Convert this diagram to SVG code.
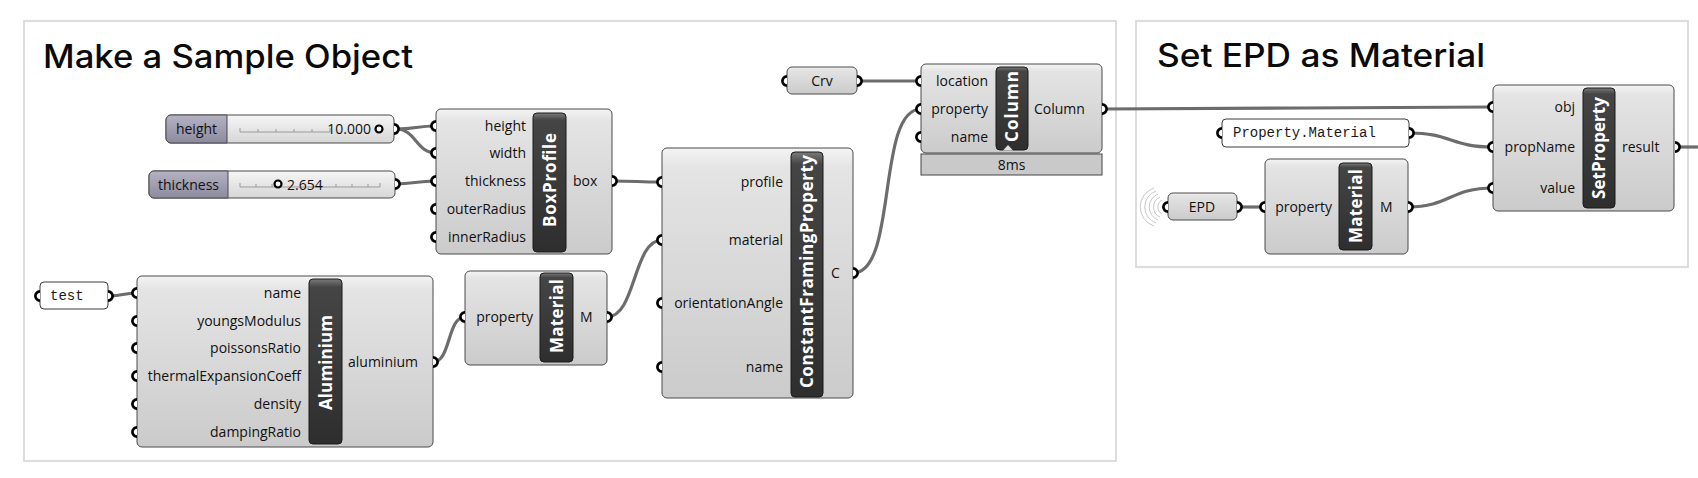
<svg xmlns="http://www.w3.org/2000/svg" xmlns:xlink="http://www.w3.org/1999/xlink" width="1698" height="478" viewBox="0 0 1698 478">
<style>
.frame{fill:#fff;stroke:#d2d2d2;stroke-width:1.5}
.title{font-family:Inter,"Liberation Sans",sans-serif;font-size:32px;font-weight:500;fill:#0a0a0a}
.node{fill:url(#gBody);stroke:#4a4a4a;stroke-width:1}
.bar{fill:url(#gBar);stroke:#1a1a1a;stroke-width:1}
.lbl{font-family:"Open Sans","Noto Sans",sans-serif;font-size:14px;fill:#111}
.r{text-anchor:end}
.m{text-anchor:middle}
.bt{font-family:"Open Sans","Noto Sans",sans-serif;font-weight:700;font-size:17px;fill:#fff;text-anchor:middle}
.wire{fill:none;stroke:#6c6c6c;stroke-width:3.2}
.sl{fill:url(#gSlider);stroke:#4a4a4a;stroke-width:1}
.sll{fill:url(#gSlLbl);stroke:#4a4a4a;stroke-width:1}
.rail{fill:none;stroke:#9a9a9a;stroke-width:1}
.grip{fill:#fff;stroke:#000;stroke-width:2.2}
.panel{fill:#fff;stroke:#3a3a3a;stroke-width:1}
.mono{font-family:"Liberation Mono","Courier New",monospace;font-size:14px;fill:#1a1a1a}
.wifi{fill:none;stroke:#c8c8c8;stroke-width:1}
</style>
<defs>
<linearGradient id="gBody" x1="0" y1="0" x2="0" y2="1">
<stop offset="0" stop-color="#f4f4f4"/><stop offset="0.08" stop-color="#e4e4e4"/><stop offset="1" stop-color="#cbcbcb"/>
</linearGradient>
<linearGradient id="gBar" x1="0" y1="0" x2="0" y2="1">
<stop offset="0" stop-color="#7a7a7a"/><stop offset="0.05" stop-color="#454545"/><stop offset="1" stop-color="#2e2e2e"/>
</linearGradient>
<linearGradient id="gSlider" x1="0" y1="0" x2="0" y2="1">
<stop offset="0" stop-color="#f6f6f6"/><stop offset="1" stop-color="#d6d6d6"/>
</linearGradient>
<linearGradient id="gSlLbl" x1="0" y1="0" x2="0" y2="1">
<stop offset="0" stop-color="#b4b2c2"/><stop offset="1" stop-color="#8c8a9e"/>
</linearGradient>
<path id="pi" d="M0,-4.6 A4.6,4.6 0 0 0 0,4.6" fill="#fff" stroke="#000" stroke-width="2.7"/>
<path id="po" d="M0,-4.6 A4.6,4.6 0 0 1 0,4.6" fill="#fff" stroke="#000" stroke-width="2.7"/>
</defs>
<rect width="1698" height="478" fill="#fff"/>

<g id="group-make-sample">
<rect class="frame" x="24" y="21" width="1092" height="440"/>
<text class="title" x="43" y="68" textLength="370" lengthAdjust="spacingAndGlyphs">Make a Sample Object</text>
</g>
<g id="group-set-epd">
<rect class="frame" x="1136" y="21" width="552" height="246"/>
<text class="title" x="1157" y="67" textLength="328" lengthAdjust="spacingAndGlyphs">Set EPD as Material</text>
</g>

<g id="connectors">
<path class="wire" d="M396,129 C416,129 416,126 436,126"/>
<path class="wire" d="M396,129 C416,129 416,153 436,153"/>
<path class="wire" d="M395,184 C415,184 415,181 436,181"/>
<path class="wire" d="M612,181 C637,181 637,182 662,182"/>
<path class="wire" d="M110,296 C123,296 123,293 137,293"/>
<path class="wire" d="M433,362 C451,362 447,317 465,317"/>
<path class="wire" d="M607,317 C636,317 633,240 662,240"/>
<path class="wire" d="M853,273 C898,273 876,109 921,109"/>
<path class="wire" d="M857,81 L921,81"/>
<path class="wire" d="M1102,109 C1300,109 1300,107 1493,107"/>
<path class="wire" d="M1409,133 C1451,133 1451,147 1493,147"/>
<path class="wire" d="M1408,207 C1450,207 1450,188 1493,188"/>
<path class="wire" d="M1237,207 L1265,207"/>
<path class="wire" d="M1675,147 L1698,147"/>
</g>

<g id="slider-height">
<rect class="sl" x="166" y="115" width="228" height="28" rx="5"/>
<path class="sll" d="M227,115 H171 A5,5 0 0 0 166,120 V138 A5,5 0 0 0 171,143 H227 Z"/>
<text class="lbl m" x="196.5" y="134" font-size="15">height</text>
<path class="rail" d="M240,132 H330 M240,132 v-4 M258,132 v-3 M276,132 v-3 M294,132 v-3 M312,132 v-3 M330,132 v-4"/>
<text class="lbl r" x="371" y="134" font-size="15">10.000</text>
<circle class="grip" cx="379" cy="129" r="3.5"/>
<use xlink:href="#po" x="394" y="129"/>
</g>

<g id="slider-thickness">
<rect class="sl" x="149" y="171" width="246" height="27" rx="5"/>
<path class="sll" d="M228,171 H154 A5,5 0 0 0 149,176 V193 A5,5 0 0 0 154,198 H228 Z"/>
<text class="lbl m" x="188.5" y="189.5" font-size="15">thickness</text>
<path class="rail" d="M240,187 H380 M240,187 v-4 M256,187 v-3 M272,187 v-3 M320,187 v-3 M336,187 v-3 M352,187 v-3 M368,187 v-3 M380,187 v-4"/>
<circle class="grip" cx="278" cy="184" r="3.5"/>
<text class="lbl" x="287" y="189.5" font-size="15">2.654</text>
<use xlink:href="#po" x="395" y="184"/>
</g>

<g id="node-boxprofile">
<rect class="node" x="436" y="109" width="176" height="145" rx="5"/>
<rect class="bar" x="533" y="113" width="33" height="139" rx="4"/>
<text class="bt" transform="translate(549.5,180) rotate(-90)" dy="6" textLength="94">BoxProfile</text>
<text class="lbl r" x="526" y="131">height</text>
<text class="lbl r" x="526" y="158">width</text>
<text class="lbl r" x="526" y="186">thickness</text>
<text class="lbl r" x="526" y="214">outerRadius</text>
<text class="lbl r" x="526" y="242">innerRadius</text>
<text class="lbl" x="573" y="186">box</text>
<use xlink:href="#pi" x="436" y="126"/>
<use xlink:href="#pi" x="436" y="153"/>
<use xlink:href="#pi" x="436" y="181"/>
<use xlink:href="#pi" x="436" y="209"/>
<use xlink:href="#pi" x="436" y="237"/>
<use xlink:href="#po" x="612" y="181"/>
</g>

<g id="node-constantframing">
<rect class="node" x="662" y="148" width="191" height="250" rx="5"/>
<rect class="bar" x="791" y="152" width="32" height="245" rx="4"/>
<text class="bt" transform="translate(807,271.5) rotate(-90)" dy="6" textLength="233">ConstantFramingProperty</text>
<text class="lbl r" x="783" y="187">profile</text>
<text class="lbl r" x="783" y="245">material</text>
<text class="lbl r" x="783" y="308">orientationAngle</text>
<text class="lbl r" x="783" y="372">name</text>
<text class="lbl" x="831" y="278">C</text>
<use xlink:href="#pi" x="662" y="182"/>
<use xlink:href="#pi" x="662" y="240"/>
<use xlink:href="#pi" x="662" y="303"/>
<use xlink:href="#pi" x="662" y="367"/>
<use xlink:href="#po" x="853" y="273"/>
</g>

<g id="node-crv">
<rect class="node" x="787" y="67" width="70" height="27" rx="5"/>
<text class="lbl m" x="822" y="86">Crv</text>
<use xlink:href="#pi" x="787" y="81"/>
<use xlink:href="#po" x="857" y="81"/>
</g>

<g id="node-column">
<rect class="node" x="921" y="64" width="181" height="89" rx="5"/>
<rect class="bar" x="996" y="67" width="32" height="83" rx="4"/>
<text class="bt" transform="translate(1012,106.5) rotate(-90)" dy="6" textLength="71">Column</text>
<polygon points="1003,150.5 1013,150.5 1008,145" fill="#e0e0e0"/>
<text class="lbl r" x="988" y="86">location</text>
<text class="lbl r" x="988" y="114">property</text>
<text class="lbl r" x="988" y="142">name</text>
<text class="lbl" x="1034" y="114">Column</text>
<rect x="921" y="154" width="181" height="21" fill="#c9c9c9" stroke="#444" stroke-width="1"/>
<text class="lbl m" x="1011.5" y="170">8ms</text>
<use xlink:href="#pi" x="921" y="81"/>
<use xlink:href="#pi" x="921" y="109"/>
<use xlink:href="#pi" x="921" y="137"/>
<use xlink:href="#po" x="1102" y="109"/>
</g>

<g id="panel-test">
<rect class="panel" x="40" y="282" width="68" height="27" rx="4"/>
<text class="mono" x="50" y="300">test</text>
<use xlink:href="#pi" x="40" y="296"/>
<use xlink:href="#po" x="108" y="296"/>
</g>

<g id="node-aluminium">
<rect class="node" x="137" y="276" width="296" height="171" rx="5"/>
<rect class="bar" x="309" y="279" width="33" height="165" rx="4"/>
<text class="bt" transform="translate(325.5,362.5) rotate(-90)" dy="6" textLength="95">Aluminium</text>
<text class="lbl r" x="301" y="298">name</text>
<text class="lbl r" x="301" y="326">youngsModulus</text>
<text class="lbl r" x="301" y="353">poissonsRatio</text>
<text class="lbl r" x="301" y="381">thermalExpansionCoeff</text>
<text class="lbl r" x="301" y="409">density</text>
<text class="lbl r" x="301" y="437">dampingRatio</text>
<text class="lbl" x="348" y="367">aluminium</text>
<use xlink:href="#pi" x="137" y="293"/>
<use xlink:href="#pi" x="137" y="321"/>
<use xlink:href="#pi" x="137" y="348"/>
<use xlink:href="#pi" x="137" y="376"/>
<use xlink:href="#pi" x="137" y="404"/>
<use xlink:href="#pi" x="137" y="432"/>
<use xlink:href="#po" x="433" y="362"/>
</g>

<g id="node-material-1">
<rect class="node" x="465" y="271" width="142" height="94" rx="5"/>
<rect class="bar" x="540" y="273" width="33" height="89" rx="4"/>
<text class="bt" transform="translate(556.5,316) rotate(-90)" dy="6" textLength="74">Material</text>
<text class="lbl r" x="533" y="322">property</text>
<text class="lbl" x="580" y="322">M</text>
<use xlink:href="#pi" x="465" y="317"/>
<use xlink:href="#po" x="607" y="317"/>
</g>

<g id="panel-property-material">
<rect class="panel" x="1222" y="119" width="187" height="28" rx="4"/>
<text class="mono" x="1233" y="137">Property.Material</text>
<use xlink:href="#pi" x="1222" y="133"/>
<use xlink:href="#po" x="1409" y="133"/>
</g>

<g id="node-epd">
<path class="wifi" d="M1162,200 A8,8 0 0 0 1162,214 M1160,197 A11,11 0 0 0 1160,217 M1158,194 A14,14 0 0 0 1158,220 M1156,191 A17,17 0 0 0 1156,223 M1154,188 A20,20 0 0 0 1154,226"/>
<rect class="node" x="1168" y="193" width="69" height="27" rx="5"/>
<text class="lbl m" x="1202" y="212">EPD</text>
<use xlink:href="#pi" x="1168" y="207"/>
<use xlink:href="#po" x="1237" y="207"/>
</g>

<g id="node-material-2">
<rect class="node" x="1265" y="159" width="143" height="95" rx="5"/>
<rect class="bar" x="1339" y="163" width="33" height="87" rx="4"/>
<text class="bt" transform="translate(1355.5,206) rotate(-90)" dy="6" textLength="74">Material</text>
<text class="lbl r" x="1332" y="212">property</text>
<text class="lbl" x="1380" y="212">M</text>
<use xlink:href="#pi" x="1265" y="207"/>
<use xlink:href="#po" x="1408" y="207"/>
</g>

<g id="node-setproperty">
<rect class="node" x="1493" y="85" width="181" height="126" rx="5"/>
<rect class="bar" x="1583" y="88" width="32" height="120" rx="4"/>
<text class="bt" transform="translate(1599,148) rotate(-90)" dy="6" textLength="102">SetProperty</text>
<text class="lbl r" x="1575" y="112">obj</text>
<text class="lbl r" x="1575" y="152">propName</text>
<text class="lbl r" x="1575" y="193">value</text>
<text class="lbl" x="1622" y="152">result</text>
<use xlink:href="#pi" x="1493" y="107"/>
<use xlink:href="#pi" x="1493" y="147"/>
<use xlink:href="#pi" x="1493" y="188"/>
<use xlink:href="#po" x="1675" y="147"/>
</g>
</svg>
